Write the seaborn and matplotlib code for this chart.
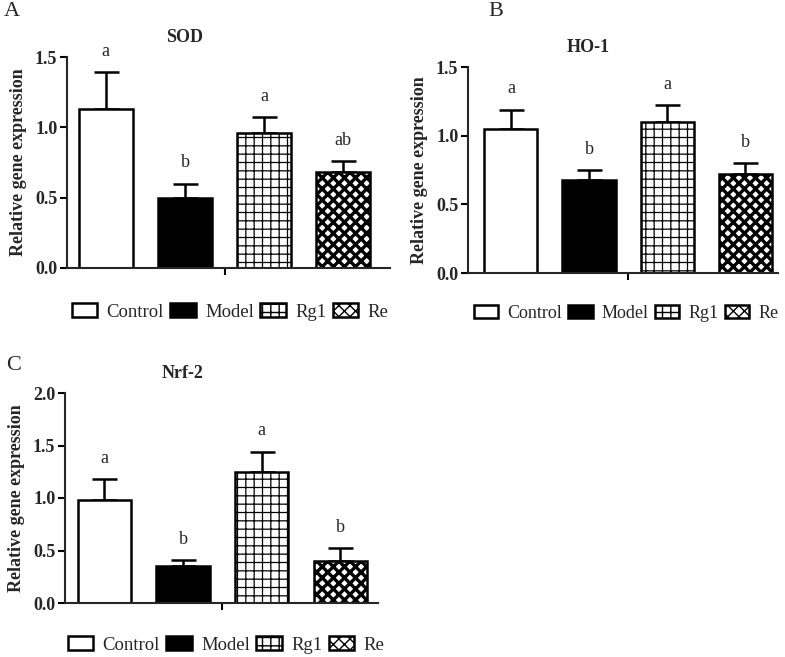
import numpy as np
import matplotlib
matplotlib.use("Agg")
import matplotlib.pyplot as plt
from matplotlib.patches import Patch
import seaborn as sns

groups = ["Control", "Model", "Rg1", "Re"]

sod_mean = [1.13, 0.50, 0.96, 0.68]
sod_err = [0.26, 0.10, 0.11, 0.08]
sod_letters = ["a", "b", "a", "ab"]

ho1_mean = [1.05, 0.68, 1.10, 0.72]
ho1_err = [0.14, 0.07, 0.12, 0.08]
ho1_letters = ["a", "b", "a", "b"]

nrf2_mean = [0.98, 0.35, 1.25, 0.40]
nrf2_err = [0.20, 0.06, 0.19, 0.12]
nrf2_letters = ["a", "b", "a", "b"]

sod_ticks = [0.0, 0.5, 1.0, 1.5]
ho1_ticks = [0.0, 0.5, 1.0, 1.5]
nrf2_ticks = [0.0, 0.5, 1.0, 1.5, 2.0]

W, H = 785, 657

sns.set_style("ticks")
plt.rcParams["font.family"] = ["Liberation Serif", "DejaVu Serif"]
plt.rcParams["axes.linewidth"] = 1.5

faces = {"Control": "white", "Model": "black", "Rg1": "white", "Re": "white"}
hatches = {"Control": "", "Model": "", "Rg1": "++", "Re": "xxx"}
hatch_lw = {"Control": 1.0, "Model": 1.0, "Rg1": 0.9, "Re": 2.4}


def style_patch(p, g):
    p.set_facecolor(faces[g])
    p.set_edgecolor("black")
    p.set_linewidth(1.8)
    p.set_hatch(hatches[g])
    if hasattr(p, "set_hatch_linewidth"):
        p.set_hatch_linewidth(hatch_lw[g])


def px_axes(fig, left, top, right, bottom):
    return fig.add_axes([left / W, 1 - bottom / H, (right - left) / W, (bottom - top) / H])


def draw_panel(ax, means, errs, letters, ticks, xlim):
    df = {"group": groups, "value": means}
    sns.barplot(x="group", y="value", hue="group", data=df, order=groups,
                hue_order=groups, palette=["white"] * 4, width=0.68,
                errorbar=None, legend=False, ax=ax)
    for p, g in zip(ax.patches, groups):
        style_patch(p, g)
    x = np.arange(len(groups))
    ax.errorbar(x, means, yerr=[np.zeros(len(errs)), errs], fmt="none",
                ecolor="black", elinewidth=1.8, capsize=9, capthick=1.8, zorder=0.5)
    for xi, m, e, lab in zip(x, means, errs, letters):
        ax.annotate(lab, (xi, m + e), xytext=(0, 15), textcoords="offset points",
                    ha="center", va="center", fontsize=13)
    ax.set_ylim(ticks[0], ticks[-1])
    ax.set_yticks(ticks)
    ax.set_yticklabels([f"{t:.1f}" for t in ticks], fontweight="bold", fontsize=13)
    ax.set_xlim(*xlim)
    ax.set_xticks([1.5])
    ax.set_xticklabels([""])
    ax.tick_params(axis="both", direction="out", length=5, width=1.5, color="black", pad=2)
    ax.set_xlabel("")
    ax.set_ylabel("Relative gene expression", fontweight="bold", fontsize=13, labelpad=6)
    sns.despine(ax=ax)
    ax.spines["left"].set_linewidth(1.5)
    ax.spines["bottom"].set_linewidth(1.5)


def add_legend(fig, ax, cx, cy, size):
    handles = []
    for g in groups:
        h = Patch(facecolor=faces[g], edgecolor="black", linewidth=1.8, hatch=hatches[g])
        if hasattr(h, "set_hatch_linewidth"):
            h.set_hatch_linewidth(hatch_lw[g])
        handles.append(h)
    ax.legend(handles, groups, ncol=4, loc="center", bbox_to_anchor=(cx / W, 1 - cy / H),
              bbox_transform=fig.transFigure, frameon=False, fontsize=size,
              handlelength=1.35, handleheight=0.75, handletextpad=0.5, columnspacing=0.35,
              borderpad=0, borderaxespad=0)


fig = plt.figure(figsize=(W / 100, H / 100), dpi=100)

ax_a = px_axes(fig, 67, 57, 390, 268)
draw_panel(ax_a, sod_mean, sod_err, sod_letters, sod_ticks, (-0.49, 3.59))
add_legend(fig, ax_a, 230, 312, 13.5)

ax_b = px_axes(fig, 468, 67, 778, 273)
draw_panel(ax_b, ho1_mean, ho1_err, ho1_letters, ho1_ticks, (-0.55, 3.42))
add_legend(fig, ax_b, 626, 313, 13)

ax_c = px_axes(fig, 65, 393, 378, 603)
draw_panel(ax_c, nrf2_mean, nrf2_err, nrf2_letters, nrf2_ticks, (-0.5, 3.48))
add_legend(fig, ax_c, 226, 645, 13.5)

# panel titles and letters
for txt, x, y in [("SOD", 185, 37), ("HO-1", 588, 48), ("Nrf-2", 183, 373)]:
    fig.text(x / W, 1 - y / H, txt, ha="center", va="center", fontsize=13, fontweight="bold")
for txt, x, y in [("A", 12, 11), ("B", 496, 11), ("C", 14, 365)]:
    fig.text(x / W, 1 - y / H, txt, ha="center", va="center", fontsize=16)

fig.savefig("out.png", dpi=100)
